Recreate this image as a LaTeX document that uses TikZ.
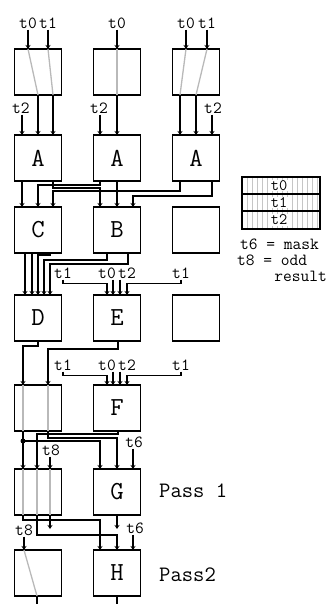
\documentclass[tikz,border=0pt]{standalone}
\usetikzlibrary{arrows.meta,positioning}

\begin{document}
\begin{tikzpicture}[
    x=1pt, y=-1pt,
    node distance=32pt,
    every node/.style={font=\ttfamily},
    blk/.style={draw, line width=1.4pt, outer sep=0pt, inner sep=0pt, minimum width=47pt, minimum height=46pt, font=\ttfamily\fontsize{26}{26}\selectfont},
    lbl/.style={inner sep=1pt, font=\ttfamily\fontsize{17}{17}\selectfont},
    cell/.style={fill=white, inner sep=0.8pt, font=\ttfamily\fontsize{16}{16}\selectfont},
    note/.style={inner sep=0pt, font=\ttfamily\fontsize{17}{17}\selectfont},
    passlbl/.style={anchor=west, inner sep=0pt, font=\ttfamily\fontsize{22}{22}\selectfont},
    dot/.style={circle, fill, inner sep=0pt, minimum size=5pt},
    wire/.style={line width=1.1pt},
    arrow/.style={wire, -{Stealth[length=4pt,width=5pt]}},
    thru/.style={line width=1.3pt, draw=gray!55}
]
\useasboundingbox (0,0) rectangle (329,604);

\node[blk] (p1l) at (38,72) {};
\node[blk, right=of p1l] (p1m) {};
\node[blk, right=of p1m] (p1r) {};
\node[blk, below=40pt of p1l] (a1) {A};
\node[blk, right=of a1] (a2) {A};
\node[blk, right=of a2] (a3) {A};
\node[blk, below=26pt of a1] (c) {C};
\node[blk, right=of c] (b) {B};
\node[blk, right=of b] (e3) {};
\node[blk, below=42pt of c] (d) {D};
\node[blk, right=of d] (e) {E};
\node[blk, right=of e] (e4) {};
\node[blk, below=44pt of d] (m5) {};
\node[blk, right=of m5] (f) {F};
\node[blk, below=38pt of m5] (m6) {};
\node[blk, right=of m6] (g) {G};
\node[blk, below=35pt of m6] (m7) {};
\node[blk, right=of m7] (h) {H};

\node[lbl] (t0a) at (28,23) {t0};
\node[lbl] (t1a) at (48,23) {t1};
\node[lbl] (t0b) at (117,23) {t0};
\node[lbl] (t0c) at (186,23) {t0};
\node[lbl] (t1c) at (207,23) {t1};
\draw[arrow] (t0a) -- (t0a |- p1l.north);
\draw[arrow] (t1a) -- (t1a |- p1l.north);
\draw[arrow] (t0b) -- (p1m.north);
\draw[arrow] (t0c) -- (t0c |- p1r.north);
\draw[arrow] (t1c) -- (t1c |- p1r.north);
\draw[thru] (t0a |- p1l.north) -- (p1l.south);
\draw[thru] (t1a |- p1l.north) -- ([xshift=15pt]p1l.south);
\draw[thru] (p1m.north) -- (p1m.south);
\draw[thru] (t0c |- p1r.north) -- ([xshift=-16pt]p1r.south);
\draw[thru] (t1c |- p1r.north) -- (p1r.south);

\draw[arrow] (p1l.south) -- (a1.north);
\draw[arrow] ([xshift=15pt]p1l.south) -- ([xshift=15pt]a1.north);
\draw[arrow] (p1m.south) -- (a2.north);
\draw[arrow] ([xshift=-16pt]p1r.south) -- ([xshift=-16pt]a3.north);
\draw[arrow] (p1r.south) -- (a3.north);
\node[lbl] (t2a) at (21,108) {t2};
\node[lbl] (t2b) at (99,108) {t2};
\node[lbl] (t2c) at (213,108) {t2};
\draw[arrow] ([xshift=1pt]t2a.south) -- ([xshift=-16pt]a1.north);
\draw[arrow] ([xshift=1pt]t2b.south) -- ([xshift=-17pt]a2.north);
\draw[arrow] ([xshift=-1pt]t2c.south) -- ([xshift=16pt]a3.north);

\draw[arrow] ([xshift=-16pt]a1.south) -- ([xshift=-16pt]c.north);
\draw[arrow] ([xshift=-17pt]a2.south) -- ++(0,4) -| (c.north);
\draw[arrow] ([xshift=15pt]a1.south) -- ++(0,7) -| ([xshift=-17pt]b.north);
\draw[arrow] (a2.south) -- (b.north);
\draw[arrow] ([xshift=-16pt]a3.south) -- ++(0,10) -| ([xshift=15pt]c.north);
\draw[arrow] ([xshift=16pt]a3.south) -- ++(0,15) -| ([xshift=16pt]b.north);

\draw[arrow] ([xshift=-13pt]c.south) -- ([xshift=-13pt]d.north);
\draw[arrow] ([xshift=-6pt]c.south) -- ([xshift=-6pt]d.north);
\draw[arrow] ([xshift=12pt]c.south) -- ++(0,2) -| (d.north);
\draw[arrow] ([xshift=-10pt]b.south) -- ++(0,7) -| ([xshift=6pt]d.north);
\draw[arrow] ([xshift=11pt]b.south) -- ++(0,11) -| ([xshift=12pt]d.north);

\node[lbl] (t1d) at (63,273) {t1};
\node[lbl] (t0e) at (107,273) {t0};
\node[lbl] (t2e) at (127,273) {t2};
\node[lbl] (t1f) at (181,273) {t1};
\draw[arrow] (t1d.south) -- ++(0,4) -| ([xshift=-10pt]e.north);
\draw[arrow] ([xshift=6pt]t0e.south) -- ([xshift=-4pt]e.north);
\draw[arrow] ([xshift=-7pt]t2e.south) -- ([xshift=3pt]e.north);
\draw[arrow] (t1f.south) -- ++(0,4) -| ([xshift=10pt]e.north);

\draw[arrow] (d.south) -- ++(0,5) -| ([xshift=-15pt]m5.north);
\draw[arrow] ([xshift=1pt]e.south) -- ++(0,8) -| ([xshift=10pt]m5.north);
\draw[thru] ([xshift=-15pt]m5.north) -- ([xshift=-15pt]m5.south);
\draw[thru] ([xshift=10pt]m5.north) -- ([xshift=10pt]m5.south);

\node[lbl] (t1g) at (63,365) {t1};
\node[lbl] (t0h) at (107,365) {t0};
\node[lbl] (t2h) at (127,365) {t2};
\node[lbl] (t1i) at (181,365) {t1};
\draw[arrow] (t1g.south) -- ++(0,4) -| ([xshift=-10pt]f.north);
\draw[arrow] ([xshift=6pt]t0h.south) -- ([xshift=-4pt]f.north);
\draw[arrow] ([xshift=-7pt]t2h.south) -- ([xshift=3pt]f.north);
\draw[arrow] (t1i.south) -- ++(0,4) -| ([xshift=10pt]f.north);

\draw[arrow] ([xshift=-15pt]m5.south) -- ([xshift=-15pt]m6.north);
\node[dot] (tap) at ([xshift=-15pt, yshift=-10pt]m5.south) {};
\draw[arrow] (tap.center) -| ([xshift=-17pt]g.north);
\draw[arrow] ([xshift=1pt]f.south) -- ++(0,3) -| ([xshift=-1pt]m6.north);
\draw[arrow] ([xshift=10pt]m5.south) -- ++(0,7) -| (g.north);
\node[lbl] (t8a) at (51,450) {t8};
\node[lbl] (t6a) at (134,442) {t6};
\draw[arrow] ([xshift=-1pt]t8a.south) -- ([xshift=12pt]m6.north);
\draw[arrow] ([xshift=-1pt]t6a.south) -- ([xshift=16pt]g.north);
\draw[thru] ([xshift=-15pt]m6.north) -- ([xshift=-15pt]m6.south);
\draw[thru] ([xshift=-1pt]m6.north) -- ([xshift=-1pt]m6.south);
\draw[thru] ([xshift=12pt]m6.north) -- ([xshift=12pt]m6.south);

\draw[arrow] ([xshift=-15pt]m6.south) -- ++(0,5) -| ([xshift=-17pt]h.north);
\draw[arrow] ([xshift=-1pt]m6.south) -- ++(0,20) -| (h.north);
\draw[arrow] ([xshift=12pt]m6.south) -- ++(0,14);
\draw[arrow] (g.south) -- ++(0,14);
\node[lbl] (t8b) at (24,530) {t8};
\node[lbl] (t6b) at (135,528) {t6};
\draw[arrow] (t8b) -- (t8b |- m7.north);
\draw[arrow] ([xshift=-2pt]t6b.south) -- ([xshift=16pt]h.north);
\draw[thru] (t8b |- m7.north) -- ([xshift=-1pt]m7.south);
\draw[wire] ([xshift=-1pt]m7.south) -- ++(0,8);
\draw[wire] (h.south) -- ++(0,8);

\node[passlbl] (pass1) at (159,491) {Pass 1};
\node[passlbl] (pass2) at (159,575) {Pass2};

\foreach \x in {247,252,...,317}
  \draw[gray!45, line width=0.6pt] (\x,177) -- (\x,229);
\node[draw, line width=1.3pt, outer sep=0pt, inner sep=0pt, minimum width=78pt, minimum height=52pt] (key) at (281,203) {};
\draw[line width=1.3pt] (242,194) -- (320,194);
\draw[line width=1.3pt] (242,211) -- (320,211);
\node[cell] (k0) at (279,185.5) {t0};
\node[cell] (k1) at (279,202.5) {t1};
\node[cell] (k2) at (279,220) {t2};
\node[note, anchor=west] (mask) at (240,244) {t6 = mask};
\node[note, anchor=west] (odd) at (237,260) {t8 = odd};
\node[note, anchor=east] (res) at (327,276) {result};
\end{tikzpicture}
\end{document}
